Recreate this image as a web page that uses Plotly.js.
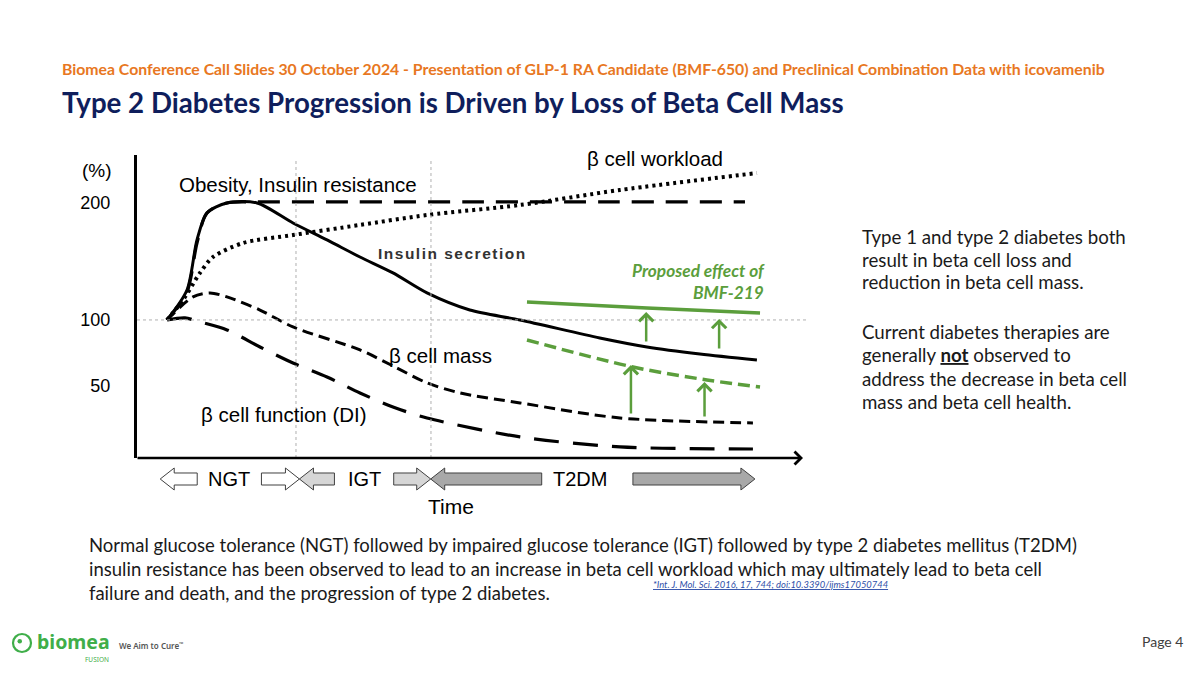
<!DOCTYPE html>
<html>
<head>
<meta charset="utf-8">
<script src="https://cdn.plot.ly/plotly-3.0.1.min.js"></script>
<style>html,body{margin:0;padding:0;background:#fff;}#chart{width:1200px;height:675px;}</style>
</head>
<body>
<div id="chart"></div>
<script>
// ---------- DATA (schematic values; y in %, x in arbitrary time units) ----------
const timeInsulin = [4.52, 7.54, 9.05, 10.56, 13.57, 18.1, 23.53, 28.66, 33.63, 38.61, 43.74, 50.2, 57.77, 69.8, 76.92, 84.9, 93.5];
const insulinSecretion = [100, 125.6, 168.4, 191.5, 200, 200, 182.9, 168.4, 153.8, 140.2, 123.1, 108.5, 100, 84.6, 76.9, 70.9, 65.8];

const timeObesity = [4.52, 7.54, 9.05, 10.56, 13.57, 18.1, 30, 50, 70, 91.7];
const obesityResistance = [100, 124, 165.8, 191.5, 200, 200.9, 200.9, 200.9, 200.9, 200.9];

const timeWorkload = [4.52, 6.94, 9.5, 11.46, 16.0, 23.53, 33.63, 43.74, 57.77, 72.85, 93.5];
const betaWorkload = [100, 117.1, 140.2, 153.8, 165.8, 172.6, 181.2, 189.7, 198.3, 211.1, 225.6];

const timeMass = [4.52, 8.45, 11.01, 13.57, 18.55, 23.53, 33.63, 38.61, 43.74, 48.7, 57.77, 72.85, 92.9];
const betaMass = [100, 119.7, 123.1, 119.7, 108.5, 94.0, 74.4, 60.7, 46.2, 37.6, 29.1, 16.2, 12.0];

const timeFunction = [4.52, 7.24, 9.5, 13.57, 18.55, 23.53, 28.66, 33.63, 38.61, 43.74, 57.77, 72.85, 92.9];
const betaFunction = [100, 101.7, 98.3, 91.5, 76.9, 63.2, 51.3, 37.6, 25.6, 16.2, 0, -8.5, -10.3];

const timeProposed = [58.82, 76.92, 93.97];
const proposedSecretion = [115.4, 110.3, 106.0];
const timeProposedMass = [58.82, 74.8, 85.97, 93.97];
const proposedMass = [82.9, 59.8, 48.7, 42.7];

const effectTime = [76.8, 87.8, 74.5, 85.6];
const effectFrom = [80.3, 74.4, 18.8, 16.2];
const effectTo = [106.8, 100.9, 61.5, 47.0];

const yTickVals = [200, 100, 43.6];
const yTickText = ['200', '100', '50'];
const stageBoundaries = [23.98, 44.34];
const stageNames = ['NGT', 'IGT', 'T2DM'];
const stageStart = [3.5, 24.5, 44.3];
const stageEnd = [24.5, 44.3, 93.2];

const sideLines1 = ['Type 1 and type 2 diabetes both', 'result in beta cell loss and', 'reduction in beta cell mass.'];
const sideLines2 = ['Current diabetes therapies are', 'generally <b><u>not</u></b> observed to', 'address the decrease in beta cell', 'mass and beta cell health.'];

// ---------- STYLE / LAYOUT HELPERS ----------
const L = 137, R = 800, T = 155, B = 458;
const X_MIN = 0, X_MAX = 100;
const px = x => (x - L) / (R - L);
const py = y => (B - y) / (B - T);
const tpx = t => L + (t - X_MIN) / (X_MAX - X_MIN) * (R - L);
const GREEN = '#5b9e3c';
const ARIAL = 'Liberation Sans, Arial, sans-serif';
const BODY = 'Lato, Open Sans, sans-serif';

const black = (dash, width) => ({color: '#000', width: width, dash: dash, shape: 'spline', smoothing: 0.8});

const traces = [
  {x: timeWorkload, y: betaWorkload, mode: 'lines', line: black('3px,4px', 4), hoverinfo: 'skip'},
  {x: timeObesity, y: obesityResistance, mode: 'lines', line: black('22px,12px', 3.2), hoverinfo: 'skip'},
  {x: timeMass, y: betaMass, mode: 'lines', line: black('11px,6px', 3), hoverinfo: 'skip'},
  {x: timeFunction, y: betaFunction, mode: 'lines', line: black('25px,14px', 3.2), hoverinfo: 'skip'},
  {x: timeInsulin, y: insulinSecretion, mode: 'lines', line: black('solid', 3), hoverinfo: 'skip'},
  {x: timeProposed, y: proposedSecretion, mode: 'lines', line: {color: GREEN, width: 3.5, shape: 'spline'}, hoverinfo: 'skip'},
  {x: timeProposedMass, y: proposedMass, mode: 'lines', line: {color: GREEN, width: 3.5, dash: '12px,6px', shape: 'spline'}, hoverinfo: 'skip'}
];

const shapes = [];
// vertical stage gridlines
stageBoundaries.forEach(b => shapes.push({type: 'line', xref: 'x', yref: 'paper', x0: b, x1: b, y0: 0, y1: 0.99,
  line: {color: '#b0b0b0', width: 1, dash: 'dot'}}));
// 100% reference line
shapes.push({type: 'line', xref: 'paper', yref: 'y', x0: 0, x1: px(806), y0: 100, y1: 100,
  line: {color: '#b0b0b0', width: 1, dash: 'dot'}});

// block arrows for stages
const leftLen = [37, 35, 111], rightLen = [38, 37, 122];
const fills = ['#ffffff', '#d6d6d6', '#a8a8a8'];
function blockArrow(x0, x1, dir, yc, fill) {
  const bh = 6, hh = 11, hl = 14;
  let pts;
  if (dir === 'left') {
    pts = [[x0, yc], [x0 + hl, yc - hh], [x0 + hl, yc - bh], [x1, yc - bh], [x1, yc + bh], [x0 + hl, yc + bh], [x0 + hl, yc + hh]];
  } else {
    pts = [[x1, yc], [x1 - hl, yc - hh], [x1 - hl, yc - bh], [x0, yc - bh], [x0, yc + bh], [x1 - hl, yc + bh], [x1 - hl, yc + hh]];
  }
  const path = 'M' + pts.map(p => px(p[0]).toFixed(5) + ',' + py(p[1]).toFixed(5)).join(' L') + ' Z';
  return {type: 'path', xref: 'paper', yref: 'paper', path: path, fillcolor: fill, line: {color: '#404040', width: 1}};
}
const annotations = [];
const stageY = 479;
stageNames.forEach((name, i) => {
  const s = tpx(stageStart[i]), e = tpx(stageEnd[i]);
  shapes.push(blockArrow(s, s + leftLen[i], 'left', stageY, fills[i]));
  shapes.push(blockArrow(e - rightLen[i], e, 'right', stageY, fills[i]));
  const mid = (s + leftLen[i] + e - rightLen[i]) / 2 - (i === 2 ? 7 : 0);
  annotations.push({xref: 'paper', yref: 'paper', x: px(mid), y: py(stageY), text: name, showarrow: false,
    xanchor: 'center', yanchor: 'middle', font: {family: ARIAL, size: 20, color: '#000'}});
});

// logo ring
shapes.push({type: 'circle', xref: 'paper', yref: 'paper', x0: px(13), x1: px(31), y0: py(652), y1: py(634),
  line: {color: '#3fae49', width: 2.2}, fillcolor: 'rgba(0,0,0,0)'});
shapes.push({type: 'circle', xref: 'paper', yref: 'paper', x0: px(17.5), x1: px(22), y0: py(643.5), y1: py(639),
  line: {color: '#3fae49', width: 0}, fillcolor: '#3fae49'});

// x axis arrow
annotations.push({xref: 'paper', yref: 'paper', x: px(803), y: 0, ax: -(803 - L + 1), ay: 0, axref: 'pixel', ayref: 'pixel',
  text: '', showarrow: true, arrowhead: 4, arrowsize: 1, arrowwidth: 2.5, arrowcolor: '#000', standoff: 0});

// green effect arrows
effectTime.forEach((t, i) => annotations.push({xref: 'x', yref: 'y', axref: 'x', ayref: 'y',
  x: t, y: effectTo[i], ax: t, ay: effectFrom[i], text: '', showarrow: true,
  arrowhead: 4, arrowsize: 1.1, arrowwidth: 2.5, arrowcolor: GREEN, standoff: 0}));

function txt(text, x, y, xanchor, size, opts) {
  opts = opts || {};
  annotations.push({xref: 'paper', yref: 'paper', x: px(x), y: py(y), text: text, showarrow: false,
    xanchor: xanchor, yanchor: 'middle', align: xanchor === 'right' ? 'right' : 'left',
    font: {family: opts.family || ARIAL, size: size, color: opts.color || '#000', weight: opts.weight || 400, style: opts.style || 'normal'}});
}
// chart labels
txt('(%)', 97, 170, 'center', 19);
txt('Obesity, Insulin resistance', 177, 184, 'left', 20.5);
txt('β cell workload', 585, 158, 'left', 20.5);
txt('<span style="letter-spacing:1.5px">Insulin secretion</span>', 376, 253, 'left', 15.5, {color: '#333', weight: 700});
txt('Proposed effect of<br>BMF-219', 767, 281, 'right', 17.3, {family: BODY, color: GREEN, weight: 700, style: 'italic'});
txt('β cell mass', 387, 355, 'left', 20.5);
txt('β cell function (DI)', 199, 414, 'left', 20.5);
txt('Time', 451, 506, 'center', 21);

// slide text
txt('Biomea Conference Call Slides 30 October 2024 - Presentation of GLP-1 RA Candidate (BMF-650) and Preclinical Combination Data with icovamenib',
  60, 69, 'left', 15.8, {family: BODY, color: '#e87722', weight: 700});
txt('Type 2 Diabetes Progression is Driven by Loss of Beta Cell Mass', 60, 103, 'left', 27.7, {family: BODY, color: '#0f1e5c', weight: 700});
sideLines1.forEach((s, i) => txt(s, 860, 237 + i * 22.7, 'left', 18.7, {family: BODY, color: '#1a1a1a'}));
sideLines2.forEach((s, i) => txt(s, 860, 332 + i * 23.3, 'left', 18.7, {family: BODY, color: '#1a1a1a'}));
txt('Normal glucose tolerance (NGT) followed by impaired glucose tolerance (IGT) followed by type 2 diabetes mellitus (T2DM)<br>insulin resistance has been observed to lead to an increase in beta cell workload which may ultimately lead to beta cell<br>failure and death, and the progression of type 2 diabetes.',
  87, 569, 'left', 18.5, {family: BODY, color: '#1a1a1a'});
txt('<i><u>*Int. J. Mol. Sci. 2016, 17, 744; doi:10.3390/ijms17050744</u></i>', 651, 584, 'left', 9.4, {family: BODY, color: '#2f4fa8'});
txt('Page 4', 1140, 641, 'left', 14, {family: BODY, color: '#404040'});
txt('biomea', 35, 641, 'left', 19.5, {family: 'Noto Sans, sans-serif', color: '#3fae49', weight: 700});
txt('FUSION', 83, 659, 'left', 6.5, {family: 'Noto Sans, sans-serif', color: '#3fae49'});
txt('We Aim to Cure<sup>™</sup>', 117, 645, 'left', 8, {family: 'Noto Sans, sans-serif', color: '#555', weight: 600});

const layout = {
  width: 1200, height: 675,
  margin: {l: L, r: 1200 - R, t: T, b: 675 - B, pad: 0},
  paper_bgcolor: '#ffffff', plot_bgcolor: 'rgba(0,0,0,0)',
  showlegend: false,
  xaxis: {range: [X_MIN, X_MAX], showgrid: false, zeroline: false, showline: false, showticklabels: false, ticks: '', fixedrange: true},
  yaxis: {range: [-18, 241], showgrid: false, zeroline: false, showline: true, linecolor: '#000', linewidth: 3,
    tickvals: yTickVals, ticktext: yTickText, ticks: 'outside', ticklen: 20, tickcolor: 'rgba(0,0,0,0)',
    tickfont: {family: ARIAL, size: 18, color: '#000'}, fixedrange: true},
  shapes: shapes,
  annotations: annotations
};

Plotly.newPlot('chart', traces, layout, {displayModeBar: false, staticPlot: true});
</script>
</body>
</html>
